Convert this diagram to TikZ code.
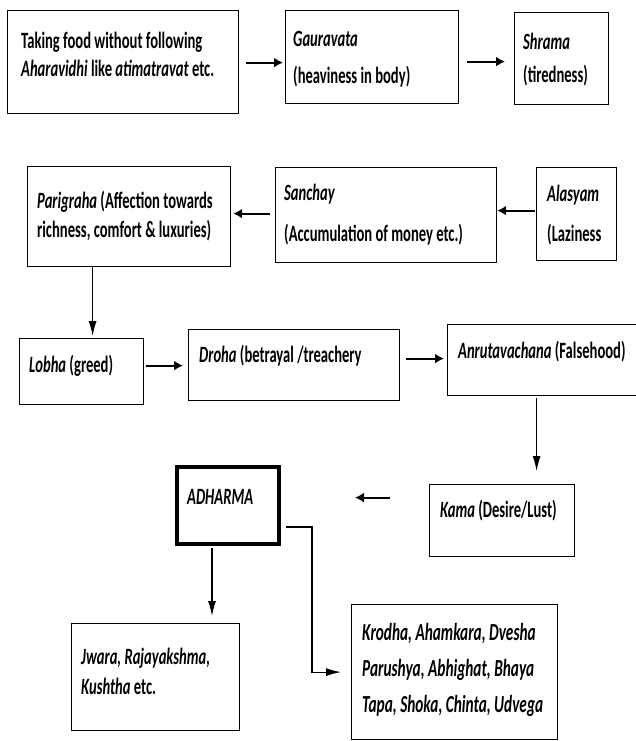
\documentclass[tikz,border=0pt]{standalone}
\usepackage{fontspec}
\setmainfont{Carlito}
\usetikzlibrary{arrows.meta}

\begin{document}
\begin{tikzpicture}[x=1pt,y=-1pt,font=\fontsize{14.6}{17.5}\selectfont\bfseries,
	box/.style={draw, line width=1.2pt, inner sep=0pt, anchor=north west},
	txt/.style={inner sep=0pt, anchor=base west, align=left, yscale=1.6},
	flow/.style={-{Latex[length=9pt,width=10pt]}, line width=2pt},
	link/.style={-{Latex[length=15pt,width=8pt]}, line width=1.2pt}]
	\path[use as bounding box, fill=white] (0,0) rectangle (636,741);
	%Riga 1
	\node [box, minimum width=231pt, minimum height=103pt] (food) at (7,10) {};
	\node [txt] at (21,77) {Taking food without following\\\textit{Aharavidhi} like \textit{atimatravat} etc.};
	\node [box, minimum width=173pt, minimum height=93pt] (gaur) at (285,10) {};
	\node [txt] at (293,84) {\textit{Gauravata}\\[6pt](heaviness in body)};
	\node [box, minimum width=94pt, minimum height=92pt] (shrama) at (514,12) {};
	\node [txt] at (523,83) {\textit{Shrama}\\[3.7pt](tiredness)};
	%Riga 2
	\node [box, minimum width=203pt, minimum height=100pt] (parig) at (27,166) {};
	\node [txt] at (37,237) {\textit{Parigraha} (Affection towards\\[0.6pt]richness, comfort \& luxuries)};
	\node [box, minimum width=221pt, minimum height=95pt] (sanchay) at (275,167) {};
	\node [txt] at (284,241) {\textit{Sanchay}\\[8pt](Accumulation of money etc.)};
	\node [box, minimum width=80pt, minimum height=93pt] (alasyam) at (536,167) {};
	\node [txt] at (547,241) {\textit{Alasyam}\\[6.9pt](Laziness};
	%Riga 3
	\node [box, minimum width=124pt, minimum height=66pt] (lobha) at (19,338) {};
	\node [txt] at (29,372) {\textit{Lobha} (greed)};
	\node [box, minimum width=211pt, minimum height=71pt] (droha) at (188,329) {};
	\node [txt] at (199,362) {\textit{Droha} (betrayal /treachery};
	\node [box, minimum width=193pt, minimum height=71pt] (anruta) at (447,324) {};
	\node [txt] at (458,358) {\textit{Anrutavachana} (Falsehood)};
	%Riga 4
	\node [box, minimum width=145pt, minimum height=72pt] (kama) at (429,484) {};
	\node [txt] at (440,517) {\textit{Kama} (Desire/Lust)};
	\node [box, line width=4pt, minimum width=102pt, minimum height=77pt] (adharma) at (175,465) {};
	\node [txt] at (187,504) {\textit{ADHARMA}};
	%Riga 5
	\node [box, minimum width=168pt, minimum height=107pt] (jwara) at (71,623) {};
	\node [txt] at (81,694) {\textit{Jwara, Rajayakshma,}\\[1.2pt]\textit{Kushtha} etc.};
	\node [box, minimum width=206pt, minimum height=135pt] (krodha) at (351,604) {};
	\node [txt, font=\fontsize{15.3}{17.5}\selectfont\bfseries] at (362,712) {\textit{Krodha, Ahamkara, Dvesha}\\[5pt]\textit{Parushya, Abhighat, Bhaya}\\[5pt]\textit{Tapa, Shoka, Chinta, Udvega}};
	%Collegamenti
	\draw [flow] ([xshift=7pt,yshift=-0.5pt]food.east) -- ([xshift=-2pt,yshift=-0.5pt]food.east -| gaur.west);
	\draw [flow] ([xshift=8pt,yshift=-4.5pt]gaur.east) -- ([xshift=-9pt,yshift=-4.5pt]gaur.east -| shrama.west);
	\draw [flow] ([xshift=-1pt,yshift=3.5pt]alasyam.west) -- ([yshift=3.5pt]alasyam.west -| sanchay.east);
	\draw [flow] ([xshift=-5pt,yshift=1.5pt]sanchay.west) -- ([xshift=2pt,yshift=1.5pt]sanchay.west -| parig.east);
	\draw [link] ([xshift=-36.5pt]parig.south) -- ([xshift=-36.5pt,yshift=2pt]parig.south |- lobha.north);
	\draw [flow] ([xshift=2pt,yshift=6pt]lobha.east) -- ([xshift=-5pt,yshift=6pt]lobha.east -| droha.west);
	\draw [flow] ([xshift=6pt,yshift=6.5pt]droha.east) -- ([xshift=-3pt,yshift=6.5pt]droha.east -| anruta.west);
	\draw [link] ([xshift=-7.5pt,yshift=-2pt]anruta.south) -- ([xshift=-7.5pt,yshift=13pt]anruta.south |- kama.north);
	\draw [flow] ([xshift=-39pt,yshift=23pt]kama.west) -- ([xshift=74pt,yshift=23pt]kama.west -| adharma.east);
	\draw [link] ([xshift=-16pt,yshift=-2pt]adharma.south) -- ([xshift=-16pt,yshift=7pt]adharma.south |- jwara.north);
	\draw [link] ([xshift=5pt,yshift=-21.5pt]adharma.east) -| ([xshift=-39pt]krodha.west) -- ([xshift=-10pt]krodha.west);
\end{tikzpicture}
\end{document}
